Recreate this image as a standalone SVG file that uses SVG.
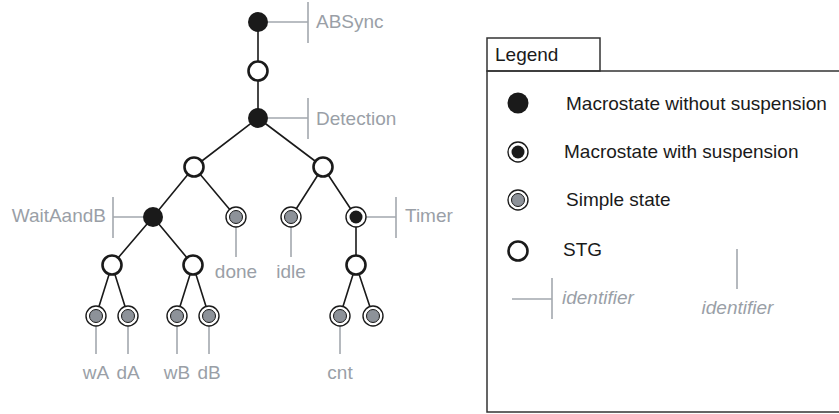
<svg xmlns="http://www.w3.org/2000/svg" width="839" height="414" viewBox="0 0 839 414">
<defs>
<style>
.edge{stroke:#1a1a1a;stroke-width:1.6;fill:none}
.ann{stroke:#a3a8ae;stroke-width:1.6;fill:none}
.lbl{font-family:"Liberation Sans",Arial,sans-serif;font-size:19px;fill:#9a9fa7}
.ltxt{font-family:"Liberation Sans",Arial,sans-serif;font-size:19px;fill:#1a1a1a}
.it{font-style:italic}
.macro{fill:#1a1a1a}
.stg{fill:#fff;stroke:#1a1a1a;stroke-width:2.6}
.ring{fill:#fff;stroke:#1a1a1a;stroke-width:1.4}
.core-s{fill:#8d9299;stroke:#1a1a1a;stroke-width:1}
.core-m{fill:#1a1a1a}
.box{fill:none;stroke:#333;stroke-width:1.5}
</style>
<g id="sym-simple"><circle class="ring" r="10"/><circle class="core-s" r="6.5"/></g>
<g id="sym-susp"><circle class="ring" r="10"/><circle class="core-m" r="6.5"/></g>
</defs>
<rect width="839" height="414" fill="#fff"/>

<g id="connectors">
<path class="edge" d="M258,22V118M258,118L194,167M258,118L323,167M194,167L153,217M194,167L236,217M323,167L291,217M323,167L356,217M153,217L112,265M153,217L193,265M356,217V265M112,265L96,316M112,265L128,316M193,265L177,316M193,265L209,316M356,265L340,316M356,265L373,316"/>
</g>

<g id="annotations">
<path class="ann" d="M268,22H308M308,2V43"/>
<text class="lbl" x="316" y="28">ABSync</text>
<path class="ann" d="M268,118H308M308,98V139"/>
<text class="lbl" x="316" y="125">Detection</text>
<path class="ann" d="M143,217H113M113,197V238"/>
<text class="lbl" x="106" y="222" text-anchor="end">WaitAandB</text>
<path class="ann" d="M366,217H396M396,197V238"/>
<text class="lbl" x="405" y="222">Timer</text>
<path class="ann" d="M236,227V257M291,227V257"/>
<text class="lbl" x="236" y="278" text-anchor="middle">done</text>
<text class="lbl" x="291" y="278" text-anchor="middle">idle</text>
<path class="ann" d="M96,326V354M128,326V354M177,326V354M209,326V354M340,326V354"/>
<text class="lbl" x="96" y="379" text-anchor="middle">wA</text>
<text class="lbl" x="128" y="379" text-anchor="middle">dA</text>
<text class="lbl" x="177" y="379" text-anchor="middle">wB</text>
<text class="lbl" x="209" y="379" text-anchor="middle">dB</text>
<text class="lbl" x="340" y="379" text-anchor="middle">cnt</text>
</g>

<g id="ABSync"><circle class="macro" cx="258" cy="22" r="10"/></g>
<g id="stg-top"><circle class="stg" cx="258" cy="71" r="9.5"/></g>
<g id="Detection"><circle class="macro" cx="258" cy="118" r="10"/></g>
<g id="stg-left"><circle class="stg" cx="194" cy="167" r="9.5"/></g>
<g id="stg-right"><circle class="stg" cx="323" cy="167" r="9.5"/></g>
<g id="WaitAandB"><circle class="macro" cx="153" cy="217" r="10"/></g>
<g id="done"><use href="#sym-simple" x="236" y="217"/></g>
<g id="idle"><use href="#sym-simple" x="291" y="217"/></g>
<g id="Timer"><use href="#sym-susp" x="356" y="217"/></g>
<g id="stg-a"><circle class="stg" cx="112" cy="265" r="9.5"/></g>
<g id="stg-b"><circle class="stg" cx="193" cy="265" r="9.5"/></g>
<g id="stg-cnt"><circle class="stg" cx="356" cy="265" r="9.5"/></g>
<g id="wA"><use href="#sym-simple" x="96" y="316"/></g>
<g id="dA"><use href="#sym-simple" x="128" y="316"/></g>
<g id="wB"><use href="#sym-simple" x="177" y="316"/></g>
<g id="dB"><use href="#sym-simple" x="209" y="316"/></g>
<g id="cnt"><use href="#sym-simple" x="340" y="316"/></g>
<g id="cnt2"><use href="#sym-simple" x="373" y="316"/></g>

<g id="legend">
<rect class="box" x="487" y="38" width="113" height="33"/>
<rect class="box" x="487" y="71" width="500" height="341"/>
<text class="ltxt" x="495" y="61">Legend</text>
<circle class="macro" cx="518" cy="103" r="10.5"/>
<text class="ltxt" x="566" y="109.5">Macrostate without suspension</text>
<use href="#sym-susp" x="518" y="152"/>
<text class="ltxt" x="564" y="158">Macrostate with suspension</text>
<use href="#sym-simple" x="518" y="200"/>
<text class="ltxt" x="566" y="206">Simple state</text>
<circle class="stg" cx="518" cy="251" r="9.5"/>
<text class="ltxt" x="563" y="256">STG</text>
<path class="ann" d="M512,299H552M552,278V319"/>
<text class="lbl it" x="562" y="304">identifier</text>
<path class="ann" d="M737,249V289"/>
<text class="lbl it" x="737.5" y="314" text-anchor="middle">identifier</text>
</g>
</svg>
